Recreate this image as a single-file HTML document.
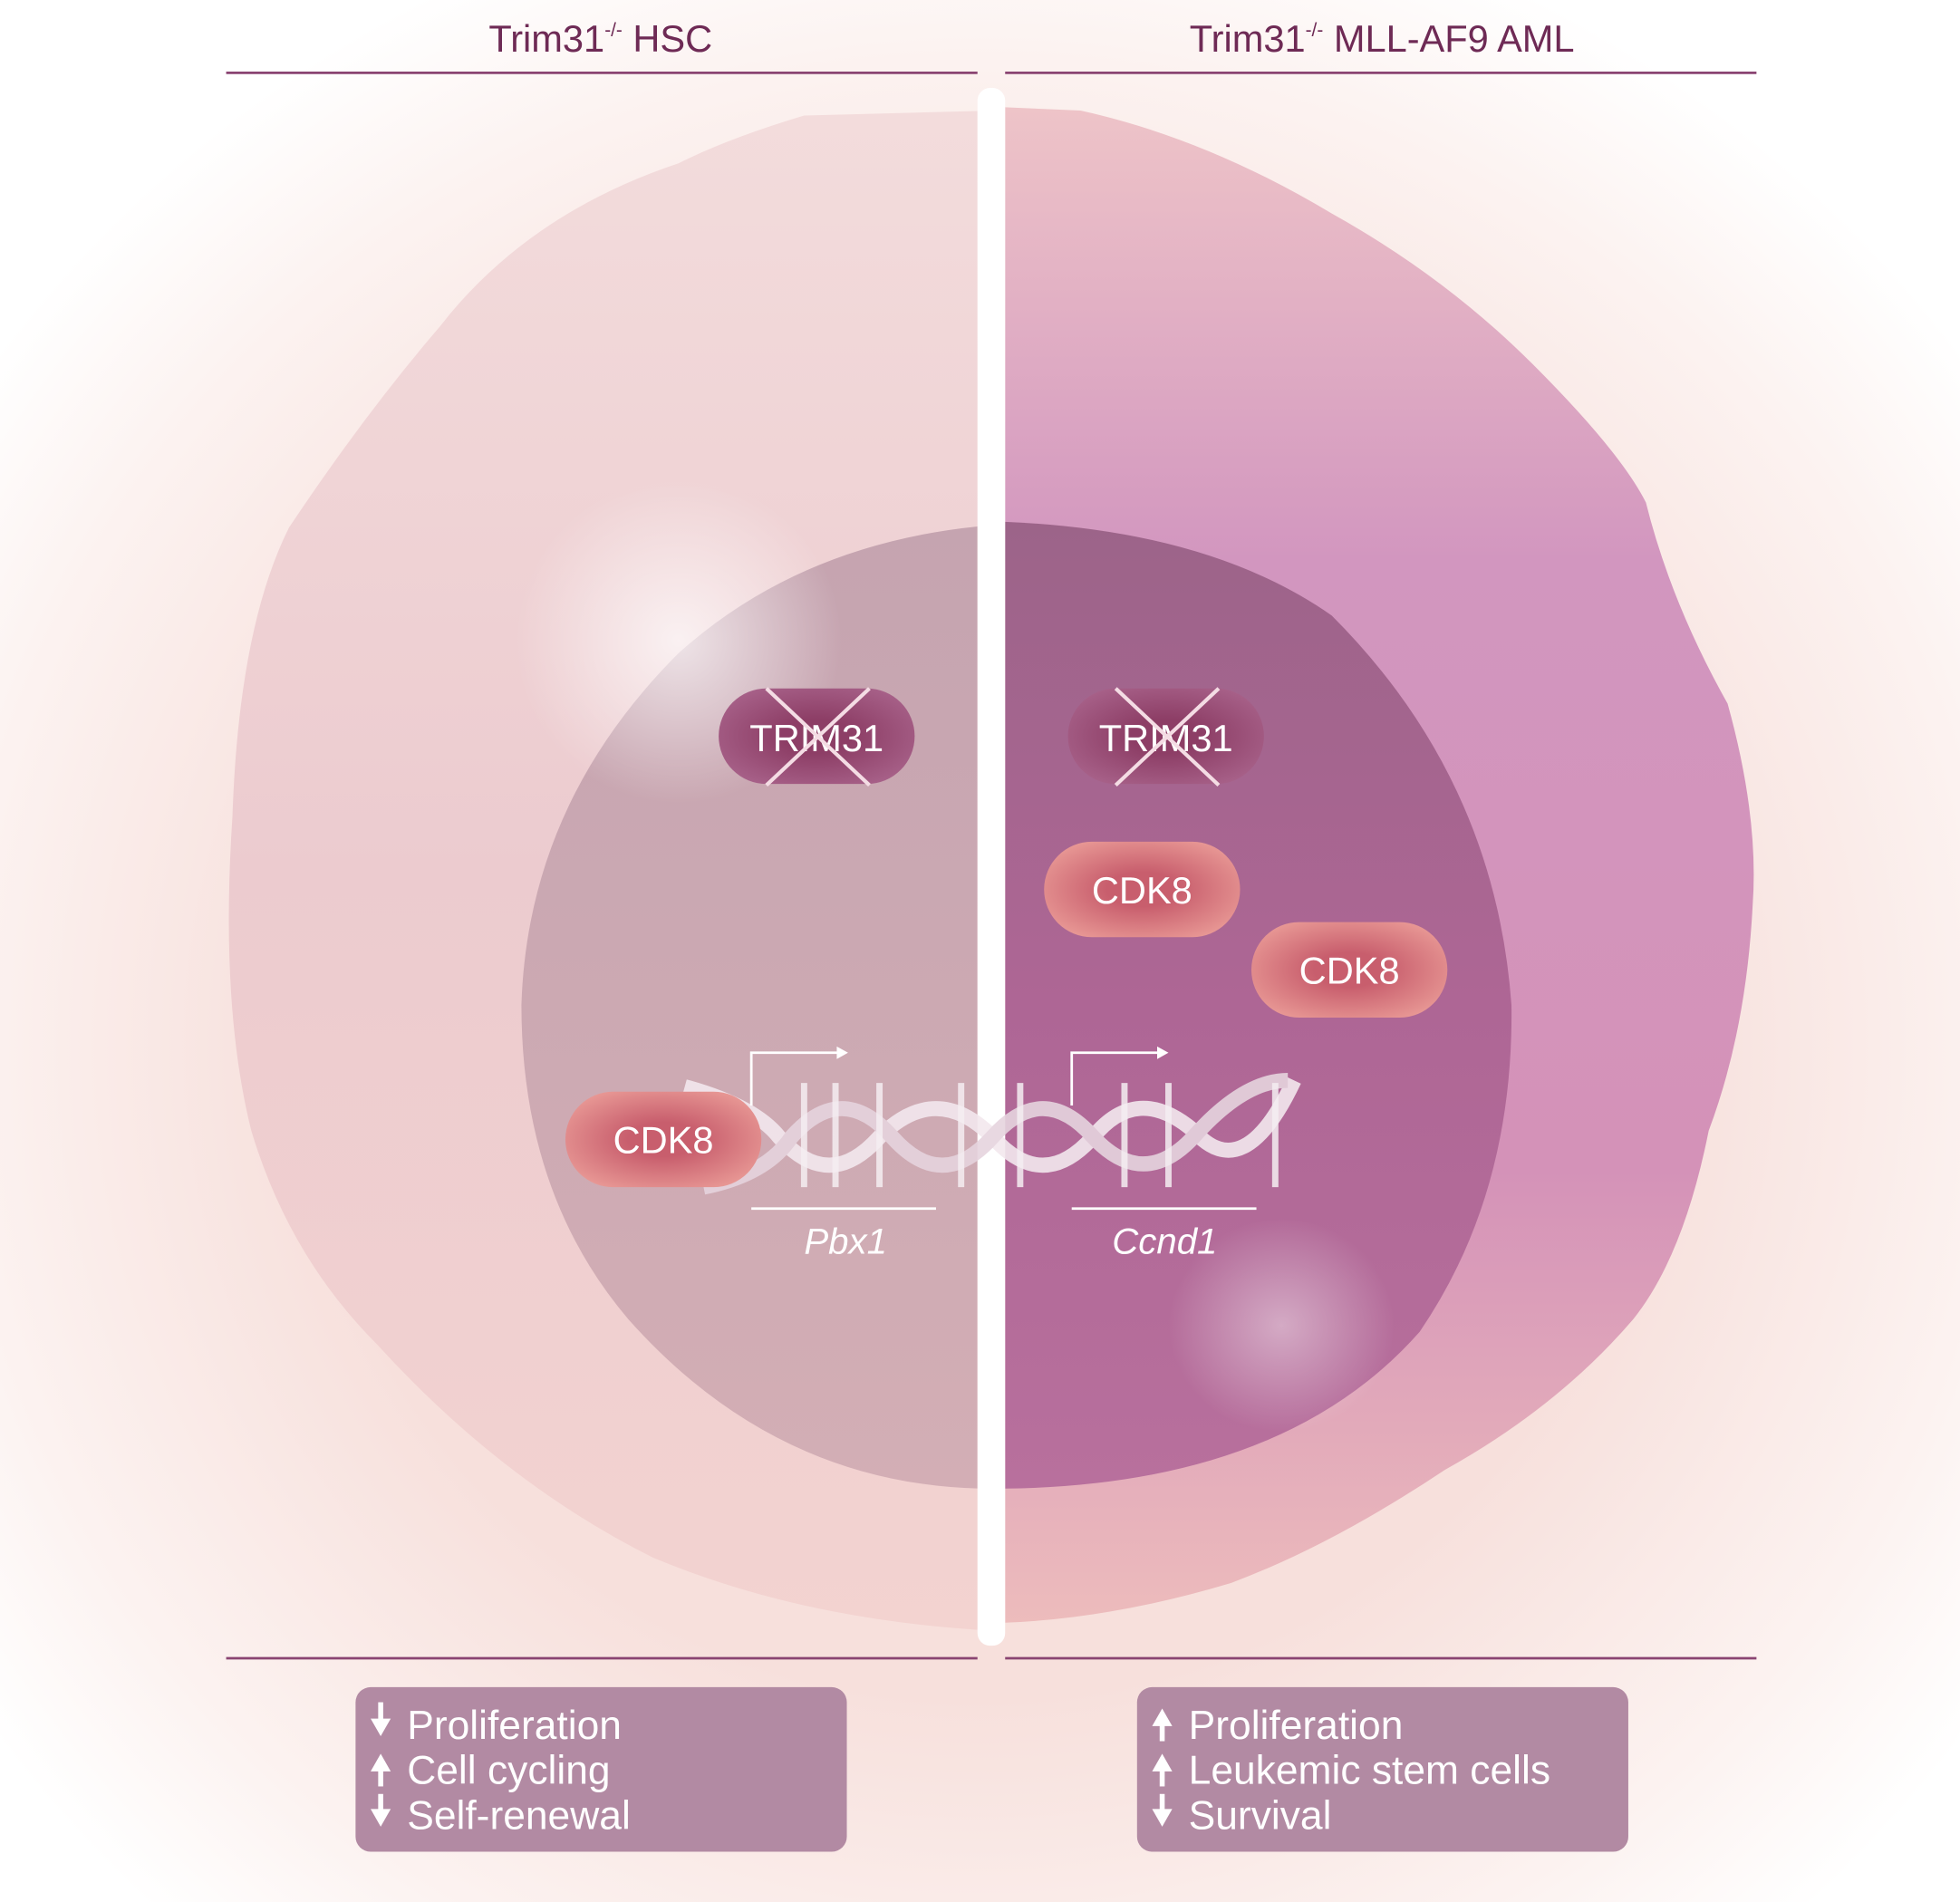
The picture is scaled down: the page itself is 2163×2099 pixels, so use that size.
<!DOCTYPE html>
<html><head><meta charset="utf-8">
<style>
html,body{margin:0;padding:0;background:#fff;}
svg{display:block}
text{font-family:"Liberation Sans",sans-serif;}
</style></head>
<body>
<svg width="2163" height="2099" viewBox="0 0 1560 1514" preserveAspectRatio="none" xmlns="http://www.w3.org/2000/svg">
<defs>
<radialGradient id="bg" cx="50%" cy="55%" r="62%">
<stop offset="0.55" stop-color="#f7e0dc"/><stop offset="0.85" stop-color="#fcf3f1"/><stop offset="1" stop-color="#ffffff"/>
</radialGradient>
<linearGradient id="lc" x1="0" y1="0" x2="0" y2="1">
<stop offset="0" stop-color="#f3dcdc"/><stop offset="0.5" stop-color="#eccbcf"/><stop offset="1" stop-color="#f3d3d0"/>
</linearGradient>
<linearGradient id="rc" x1="0" y1="0" x2="0" y2="1">
<stop offset="0" stop-color="#eec4c8"/><stop offset="0.3" stop-color="#d296bf"/><stop offset="0.7" stop-color="#d492b8"/><stop offset="1" stop-color="#edbcbc"/>
</linearGradient>
<linearGradient id="ln" x1="0" y1="0" x2="0" y2="1">
<stop offset="0" stop-color="#c5a4b0"/><stop offset="1" stop-color="#d3aeb5"/>
</linearGradient>
<linearGradient id="rn" x1="0" y1="0" x2="0" y2="1">
<stop offset="0" stop-color="#9c6489"/><stop offset="0.5" stop-color="#ae6695"/><stop offset="1" stop-color="#b8709d"/>
</linearGradient>
<radialGradient id="pill" cx="50%" cy="50%" r="60%">
<stop offset="0.3" stop-color="#c85e6d"/><stop offset="1" stop-color="#e99a96"/>
</radialGradient>
<radialGradient id="tr" cx="50%" cy="50%" r="60%">
<stop offset="0.3" stop-color="#8d3e66"/><stop offset="1" stop-color="#a8628a"/>
</radialGradient>
<radialGradient id="glow" cx="50%" cy="50%" r="50%">
<stop offset="0" stop-color="#fff" stop-opacity="0.7"/><stop offset="1" stop-color="#fff" stop-opacity="0"/>
</radialGradient>
<clipPath id="cl"><rect x="0" y="0" width="778" height="1514"/></clipPath>
<clipPath id="cr"><rect x="800" y="0" width="800" height="1514"/></clipPath>
</defs>
<rect width="1560" height="1514" fill="url(#bg)"/>
<!-- left cell -->
<path clip-path="url(#cl)" d="M790 88 L640 92 Q580 110 540 130 Q420 170 350 260 Q290 330 230 420 Q190 500 185 650 Q175 800 200 900 Q230 1000 300 1070 Q400 1180 520 1240 Q640 1290 790 1298 Z" fill="url(#lc)"/>
<!-- right cell -->
<path clip-path="url(#cr)" d="M790 85 L860 88 Q960 110 1060 170 Q1150 220 1220 290 Q1290 360 1310 400 Q1330 480 1375 560 Q1400 650 1395 720 Q1390 820 1360 900 Q1340 1000 1300 1050 Q1240 1120 1150 1170 Q1060 1230 980 1260 Q880 1290 790 1292 Z" fill="url(#rc)"/>
<!-- nuclei -->
<path clip-path="url(#cl)" d="M790 418 Q640 430 540 520 Q420 640 415 800 Q415 950 500 1050 Q620 1185 790 1185 Z" fill="url(#ln)"/>
<path clip-path="url(#cr)" d="M790 415 Q960 420 1060 490 Q1190 620 1203 800 Q1205 950 1130 1060 Q1020 1185 790 1185 Z" fill="url(#rn)"/>
<ellipse cx="540" cy="510" rx="130" ry="130" fill="url(#glow)" clip-path="url(#cl)"/>
<ellipse cx="1020" cy="1055" rx="90" ry="85" fill="url(#glow)" opacity="0.6"/>
<rect x="778" y="70" width="22" height="1240" rx="10" fill="#fff"/>
<!-- titles -->
<text x="478" y="41" font-size="30" fill="#6e2a55" text-anchor="middle">Trim31<tspan font-size="15" dy="-12">-/-</tspan><tspan dy="12"> HSC</tspan></text>
<text x="1100" y="41" font-size="30" fill="#6e2a55" text-anchor="middle">Trim31<tspan font-size="15" dy="-12">-/-</tspan><tspan dy="12"> MLL-AF9 AML</tspan></text>
<g stroke="#8a4472" stroke-width="2">
<line x1="180" y1="58" x2="778" y2="58"/><line x1="800" y1="58" x2="1398" y2="58"/>
<line x1="180" y1="1320" x2="778" y2="1320"/><line x1="800" y1="1320" x2="1398" y2="1320"/>
</g>
<!-- TRIM31 -->
<g>
<rect x="572" y="548" width="156" height="76" rx="38" fill="url(#tr)"/>
<text x="650" y="598" font-size="30" fill="#fff" text-anchor="middle">TRIM31</text>
<path d="M610 548 L692 625 M692 548 L610 625" stroke="#f4dce4" stroke-width="3"/>
<rect x="850" y="548" width="156" height="76" rx="38" fill="url(#tr)"/>
<text x="928" y="598" font-size="30" fill="#fff" text-anchor="middle">TRIM31</text>
<path d="M888 548 L970 625 M970 548 L888 625" stroke="#f4dce4" stroke-width="3"/>
</g>
<!-- DNA -->
<g fill="none" stroke="#f3e8ee" stroke-width="12" opacity="0.9">
<path d="M545 865 Q600 880 620 905 Q660 950 700 905 Q745 860 790 905 Q830 950 870 905 Q905 862 950 900 Q990 945 1030 860"/>
<path d="M560 945 Q610 935 630 905 Q670 860 710 905 Q750 950 790 905 Q830 860 870 905 Q910 948 950 905 Q990 860 1025 860" stroke="#e6d4de"/>
</g>
<g stroke="#f5eef2" stroke-width="5" opacity="0.85">
<line x1="640" y1="862" x2="640" y2="945"/><line x1="665" y1="862" x2="665" y2="945"/><line x1="700" y1="862" x2="700" y2="945"/>
<line x1="765" y1="862" x2="765" y2="945"/><line x1="812" y1="862" x2="812" y2="945"/>
<line x1="895" y1="862" x2="895" y2="945"/><line x1="930" y1="862" x2="930" y2="945"/><line x1="1015" y1="862" x2="1015" y2="945"/>
</g>
<!-- promoter arrows -->
<g fill="none" stroke="#fff" stroke-width="2">
<path d="M598 880 L598 838 L668 838"/><path d="M853 880 L853 838 L923 838"/>
</g>
<path d="M666 833 L675 838 L666 843 Z M921 833 L930 838 L921 843 Z" fill="#fff"/>
<line x1="598" y1="962" x2="745" y2="962" stroke="#fff" stroke-width="2"/>
<line x1="853" y1="962" x2="1000" y2="962" stroke="#fff" stroke-width="2"/>
<text x="673" y="998" font-size="29" font-style="italic" fill="#fff" text-anchor="middle">Pbx1</text>
<text x="927" y="998" font-size="29" font-style="italic" fill="#fff" text-anchor="middle">Ccnd1</text>
<!-- CDK8 -->
<g font-size="30" fill="#fff" text-anchor="middle">
<rect x="831" y="670" width="156" height="76" rx="38" fill="url(#pill)"/><text x="909" y="719">CDK8</text>
<rect x="996" y="734" width="156" height="76" rx="38" fill="url(#pill)"/><text x="1074" y="783">CDK8</text>
<rect x="450" y="869" width="156" height="76" rx="38" fill="url(#pill)"/><text x="528" y="918">CDK8</text>
</g>
<!-- boxes -->
<rect x="283" y="1343" width="391" height="131" rx="12" fill="#b28aa3"/>
<rect x="905" y="1343" width="391" height="131" rx="12" fill="#b28aa3"/>
<g font-size="32" fill="#fff">
<text x="324" y="1384">Proliferation</text><text x="324" y="1420">Cell cycling</text><text x="324" y="1456">Self-renewal</text>
<text x="946" y="1384">Proliferation</text><text x="946" y="1420">Leukemic stem cells</text><text x="946" y="1456">Survival</text>
</g>
<g fill="#fff" stroke="#fff" stroke-width="4">
<line x1="303" y1="1355" x2="303" y2="1372"/><path d="M295 1368 L303 1382 L311 1368Z" stroke="none"/>
<line x1="303" y1="1406" x2="303" y2="1422"/><path d="M295 1410 L303 1396 L311 1410Z" stroke="none"/>
<line x1="303" y1="1428" x2="303" y2="1444"/><path d="M295 1440 L303 1454 L311 1440Z" stroke="none"/>
<line x1="925" y1="1370" x2="925" y2="1386"/><path d="M917 1374 L925 1360 L933 1374Z" stroke="none"/>
<line x1="925" y1="1406" x2="925" y2="1422"/><path d="M917 1410 L925 1396 L933 1410Z" stroke="none"/>
<line x1="925" y1="1428" x2="925" y2="1444"/><path d="M917 1440 L925 1454 L933 1440Z" stroke="none"/>
</g>
</svg>
</body></html>
